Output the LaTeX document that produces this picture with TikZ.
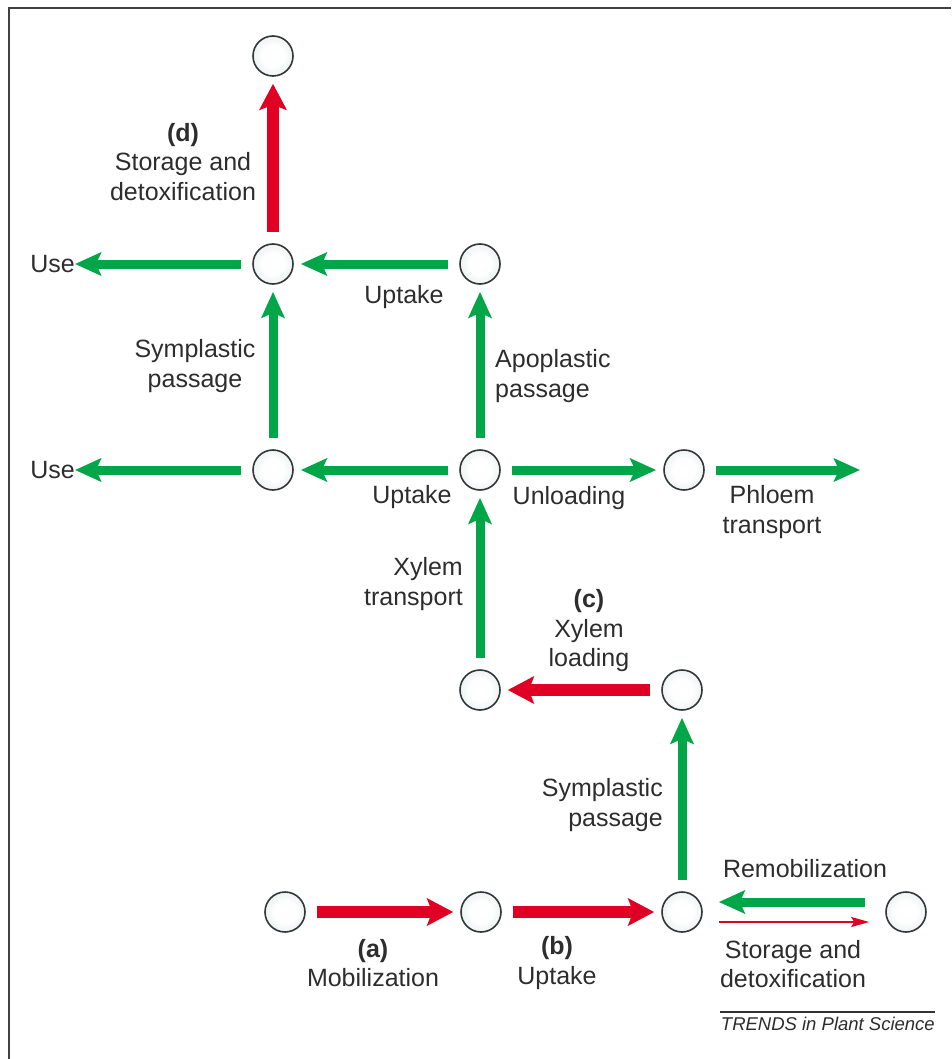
\documentclass[tikz,border=0pt]{standalone}
\usepackage{fontspec}
\setmainfont{Liberation Sans}
\usetikzlibrary{arrows.meta}
\definecolor{pgreen}{RGB}{0,166,72}
\definecolor{pred}{RGB}{224,0,36}
\definecolor{ptext}{RGB}{45,45,45}
\definecolor{pedge}{RGB}{50,55,55}
\definecolor{cmid}{RGB}{226,234,234}
\definecolor{cout}{RGB}{178,190,190}
\pgfdeclareradialshading{cball}{\pgfpoint{0bp}{0bp}}{color(0bp)=(white); color(14bp)=(white!94!cmid); color(34bp)=(cmid); color(50bp)=(cout)}
\tikzset{
  cnode/.style={circle, minimum size=40pt, inner sep=0pt, draw=pedge, line width=1.6pt, shading=cball},
  garrow/.style={draw=pgreen, line width=9pt, -{Stealth[length=26pt,width=23pt,inset=5pt]}, shorten <=11pt, shorten >=7pt},
  rarrow/.style={draw=pred, line width=12pt, -{Stealth[length=26pt,width=27pt,inset=5pt]}, shorten <=11pt, shorten >=7pt},
  thinred/.style={draw=pred, line width=2pt, -{Stealth[length=18pt,width=10pt,inset=3pt]}},
  lbl/.style={text=ptext, font=\fontsize{25}{29.5}\selectfont, inner sep=0pt}
}
\begin{document}
\begin{tikzpicture}[x=1pt,y=-1pt]
\useasboundingbox (0,0) rectangle (951,1059);
\draw[line width=1.8pt, draw=black!75] (9,1059) -- (9,8) -- (951,8);
% nodes
\node[cnode] (n1) at (273,56) {};
\node[cnode] (n2) at (273,264) {};
\node[cnode] (n3) at (480,264) {};
\node[cnode] (n4) at (273,470) {};
\node[cnode] (n5) at (480,470) {};
\node[cnode] (n6) at (684,470) {};
\node[cnode] (n7) at (480,690) {};
\node[cnode] (n8) at (682,690) {};
\node[cnode] (n9) at (285,912) {};
\node[cnode] (n10) at (481,912) {};
\node[cnode] (n11) at (682,912) {};
\node[cnode] (n12) at (906,912) {};
% labels
\node[lbl, align=center] (ld) at (183,162) {\textbf{(d)}\\Storage and\\detoxification};
\node[lbl, anchor=east] (use1) at (75,264) {Use};
\node[lbl] (up1) at (404,297) {Uptake};
\node[lbl, align=center] (sp1) at (195,366) {Symplastic\\passage};
\node[lbl, anchor=west, align=left] (ap) at (495,376) {Apoplastic\\passage};
\node[lbl, anchor=east] (use2) at (75,470) {Use};
\node[lbl] (up2) at (412,497) {Uptake};
\node[lbl] (unl) at (569,498) {Unloading};
\node[lbl, align=center] (ph) at (772,512) {Phloem\\transport};
\coordinate (phend) at (860,470);
\node[lbl, anchor=east, align=right] (xt) at (463,584) {Xylem\\transport};
\node[lbl, align=center] (xl) at (589,631) {\textbf{(c)}\\Xylem\\loading};
\node[lbl, anchor=east, align=right] (sp2) at (663,805) {Symplastic\\passage};
\node[lbl] (rem) at (805,869) {Remobilization};
\node[lbl, align=center] (sd) at (793,964) {Storage and\\detoxification};
\node[lbl, align=center] (la) at (373,963) {\textbf{(a)}\\Mobilization};
\node[lbl, align=center] (lb) at (557,963) {\textbf{(b)}\\Uptake};
\coordinate (tl) at (720,1012);
\coordinate (tr) at (935,1012);
\draw[line width=1.5pt, draw=black!80] (tl) -- (tr);
\node[text=ptext, font=\fontsize{18.5}{20}\selectfont\itshape, anchor=north east, inner sep=0pt] (trends) at (935,1017) {TRENDS in Plant Science};
% arrows
\draw[rarrow] (n2) -- (n1);
\draw[garrow, shorten >=0pt] (n2) -- (use1.east);
\draw[garrow] (n3) -- (n2);
\draw[garrow] (n5) -- (n3);
\draw[garrow] (n4) -- (n2);
\draw[garrow, shorten >=0pt] (n4) -- (use2.east);
\draw[garrow] (n5) -- (n4);
\draw[garrow] (n5) -- (n6);
\draw[garrow, shorten >=0pt] (n6) -- (phend);
\draw[garrow] (n7) -- (n5);
\draw[rarrow] (n8) -- (n7);
\draw[garrow] (n11) -- (n8);
\draw[rarrow] (n9) -- (n10);
\draw[rarrow] (n10) -- (n11);
\draw[garrow, shorten <=20pt, shorten >=16pt] ([yshift=10pt]n12.west) -- ([yshift=10pt]n11.east);
\draw[thinred, shorten <=16pt, shorten >=16pt] ([yshift=-10pt]n11.east) -- ([yshift=-10pt]n12.west);
\end{tikzpicture}
\end{document}
